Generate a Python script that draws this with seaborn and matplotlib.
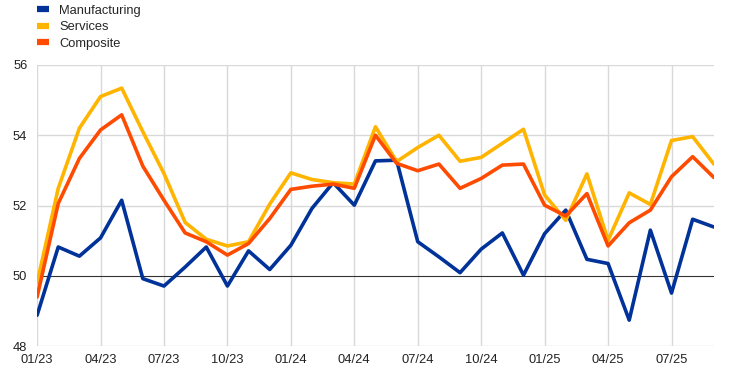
import numpy as np
import pandas as pd
import seaborn as sns
import matplotlib.pyplot as plt

months = pd.date_range("2023-01-01", "2025-09-01", freq="MS")

manufacturing = [48.88, 50.82, 50.56, 51.08, 52.15, 49.92, 49.71, 50.25, 50.82, 49.71,
                 50.71, 50.18, 50.87, 51.92, 52.65, 52.01, 53.27, 53.29, 50.97, 50.54,
                 50.09, 50.76, 51.22, 50.02, 51.20, 51.87, 50.47, 50.35, 48.74, 51.30,
                 49.51, 51.61, 51.39]
services = [49.80, 52.49, 54.20, 55.10, 55.34, 54.10, 52.91, 51.52, 51.04, 50.85,
            50.97, 52.04, 52.93, 52.74, 52.65, 52.61, 54.24, 53.25, 53.65, 54.00,
            53.26, 53.37, 53.77, 54.17, 52.30, 51.58, 52.90, 51.01, 52.36, 52.03,
            53.85, 53.96, 53.18]
composite = [49.40, 52.06, 53.34, 54.15, 54.58, 53.12, 52.15, 51.22, 50.97, 50.59,
             50.92, 51.63, 52.46, 52.55, 52.61, 52.49, 54.00, 53.20, 52.99, 53.18,
             52.49, 52.77, 53.15, 53.18, 52.01, 51.70, 52.34, 50.85, 51.51, 51.87,
             52.82, 53.39, 52.80]

series_names = ["Manufacturing", "Services", "Composite"]
colors = ["#003299", "#FFB400", "#FF4B00"]

df = pd.DataFrame({"month": np.arange(len(months)),
                   "Manufacturing": manufacturing,
                   "Services": services,
                   "Composite": composite})
long = df.melt(id_vars="month", var_name="series", value_name="value")

sns.set_style("white")
plt.rcParams['font.family'] = ['Liberation Sans', 'DejaVu Sans']

fig = plt.figure(figsize=(7.42, 3.71), dpi=100)
ax = fig.add_axes([0.05, 0.067, 0.912, 0.758])

tick_pos = np.arange(0, len(months), 3)
tick_labels = [m.strftime("%m/%y") for m in months[::3]]
for p in tick_pos:
    ax.axvline(p, color="#d9d9d9", lw=1, zorder=0)
for yv in [48, 52, 54, 56]:
    ax.axhline(yv, color="#d9d9d9", lw=1, zorder=0)
ax.axhline(50, color="#333333", lw=0.8, zorder=1)

sns.lineplot(data=long, x="month", y="value", hue="series", hue_order=series_names,
             palette=colors, linewidth=2.6, ax=ax, legend=False, zorder=3)

ax.set_xlim(0, len(months) - 1)
ax.set_ylim(48, 56)
ax.set_xticks(tick_pos)
ax.set_xticklabels(tick_labels)
ax.set_yticks([48, 50, 52, 54, 56])
ax.tick_params(axis="both", labelsize=9.3, colors="#222222", length=0)
ax.tick_params(axis="x", pad=6)
ax.tick_params(axis="y", pad=7)
ax.set_xlabel("")
ax.set_ylabel("")
for s in ax.spines.values():
    s.set_visible(False)

handles = [plt.Line2D([], [], color=c, lw=4.5, solid_capstyle="butt") for c in colors]
fig.legend(handles, series_names, loc="upper left", bbox_to_anchor=(0.05, 0.987),
           frameon=False, fontsize=9.3, handlelength=0.95, handletextpad=0.75,
           labelspacing=0.35, borderaxespad=0, borderpad=0)

fig.savefig("out.png", dpi=100)
